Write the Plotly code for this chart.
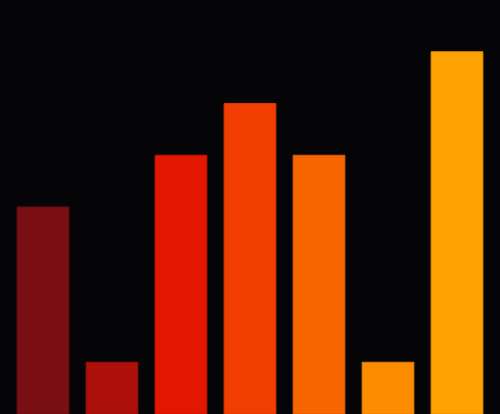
import plotly.graph_objects as go

# Seven unlabeled bars, warm palette on a black background
categories = ["A", "B", "C", "D", "E", "F", "G"]
values = [4, 1, 5, 6, 5, 1, 7]
colors = ["#7a0f13", "#ad0f0a", "#e31600", "#f23d00", "#f76500", "#fd8c00", "#ffa100"]
edge_colors = ["#6a0d10", "#9a0d08", "#c91300", "#d83600", "#dc5a00", "#e07c00", "#e38f00"]

fig = go.Figure(go.Bar(
    x=categories,
    y=values,
    marker=dict(color=colors, line=dict(color=edge_colors, width=1)),
    hoverinfo="skip",
))

fig.update_layout(
    width=500,
    height=414,
    margin=dict(l=0, r=0, t=0, b=0),
    paper_bgcolor="#050507",
    plot_bgcolor="#050507",
    bargap=0.25,
    showlegend=False,
    xaxis=dict(visible=False, range=[-0.623, 6.623]),
    yaxis=dict(visible=False, range=[0, 8]),
)

# drop the page margin so the black paper reaches the window edges
fig.write_html(
    "out.html",
    config={"displayModeBar": False},
    post_script="document.body.style.margin='0';document.body.style.background='#050507';",
)
